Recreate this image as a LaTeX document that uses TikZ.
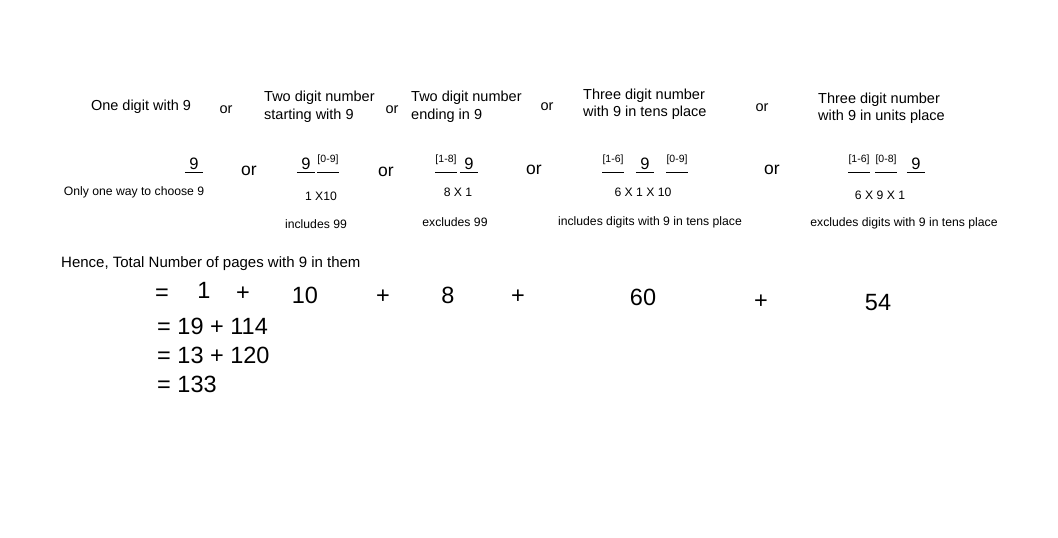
\documentclass[tikz,border=0pt]{standalone}
\usepackage{fontspec}
\setmainfont{Liberation Sans}
\usetikzlibrary{positioning}

\begin{document}
\begin{tikzpicture}[x=1pt,y=-1pt,
    head/.style={font=\fontsize{14.5}{17.5}\selectfont,align=left,inner sep=0pt},
    orword/.style={font=\fontsize{14.5}{17}\selectfont,inner sep=0pt},
    orbig/.style={font=\fontsize{17.5}{20}\selectfont,inner sep=0pt},
    digit/.style={font=\fontsize{16.5}{19}\selectfont,anchor=south,minimum width=18pt,inner xsep=0pt,inner ysep=2pt,text depth=0pt},
    choices/.style={font=\fontsize{10.5}{12}\selectfont,anchor=south,minimum width=20pt,inner xsep=0pt,inner ysep=9pt,text depth=0pt},
    note/.style={font=\fontsize{12.2}{14}\selectfont,inner sep=0pt},
    total/.style={font=\fontsize{23.5}{27}\selectfont,inner sep=0pt}]
    \useasboundingbox (0,0) rectangle (1058,538);

    \node[head] (h1) at (141,107) {One digit with 9};
    \node[head,anchor=west] (h2) at (264,107) {Two digit number\\starting with 9};
    \node[head,anchor=west] (h3) at (411,107) {Two digit number\\ending in 9};
    \node[head,anchor=west] (h4) at (583,104.5) {Three digit number\\with 9 in tens place};
    \node[head,anchor=west] (h5) at (818,108.5) {Three digit number\\with 9 in units place};
    \node[orword] (o1) at (226,110) {or};
    \node[orword] (o2) at (392,110) {or};
    \node[orword] (o3) at (547,107) {or};
    \node[orword] (o4) at (762,108) {or};

    \node[digit] (a) at (194,172) {9};
    \node[digit] (b1) at (306,172) {9};
    \node[choices] (b2) at (328,172) {[0-9]};
    \node[choices] (c1) at (446,172) {[1-8]};
    \node[digit] (c2) at (469,172) {9};
    \node[choices] (d1) at (613,172) {[1-6]};
    \node[digit] (d2) at (645,172) {9};
    \node[choices] (d3) at (677,172) {[0-9]};
    \node[choices] (e1) at (859,172) {[1-6]};
    \node[choices] (e2) at (886,172) {[0-8]};
    \node[digit] (e3) at (916,172) {9};
    \foreach \s in {a,b1,b2,c1,c2,d1,d2,d3,e1,e2,e3}
        \draw[line width=0.6pt] (\s.south west) -- (\s.south east);

    \node[orbig] (p1) at (249,171) {or};
    \node[orbig] (p2) at (386,172) {or};
    \node[orbig] (p3) at (534,170) {or};
    \node[orbig] (p4) at (772,170) {or};

    \node[note] (na) at (134,192) {Only one way to choose 9};
    \node[note] (nb) at (321,196) {1 X10};
    \node[note] (nc) at (458,192) {8 X 1};
    \node[note] (nd) at (643,192) {6 X 1 X 10};
    \node[note] (ne) at (880,195) {6 X 9 X 1};
    \node[note] (mb) at (316,224) {includes 99};
    \node[note] (mc) at (455,222) {excludes 99};
    \node[note] (md) at (650,222) {includes digits with 9 in tens place};
    \node[note] (me) at (904,223) {excludes digits with 9 in tens place};

    \node[font=\fontsize{15}{17}\selectfont,anchor=west,inner sep=0pt] (hence) at (61,264) {Hence, Total Number of pages with 9 in them};
    \node[total] (s0) at (162,295) {=};
    \node[total] (s1) at (204,290) {1};
    \node[total] (s2) at (243,294) {+};
    \node[total] (s3) at (305,295) {10};
    \node[total] (s4) at (383,297) {+};
    \node[total] (s5) at (448,295) {8};
    \node[total] (s6) at (518,297) {+};
    \node[total] (s7) at (643,297) {60};
    \node[total] (s8) at (761,302) {+};
    \node[total] (s9) at (878,303) {54};
    \node[total,anchor=west] (t1) at (157,326) {= 19 + 114};
    \node[total,anchor=west] (t2) at (157,355) {= 13 + 120};
    \node[total,anchor=west] (t3) at (157,384) {= 133};
\end{tikzpicture}
\end{document}
